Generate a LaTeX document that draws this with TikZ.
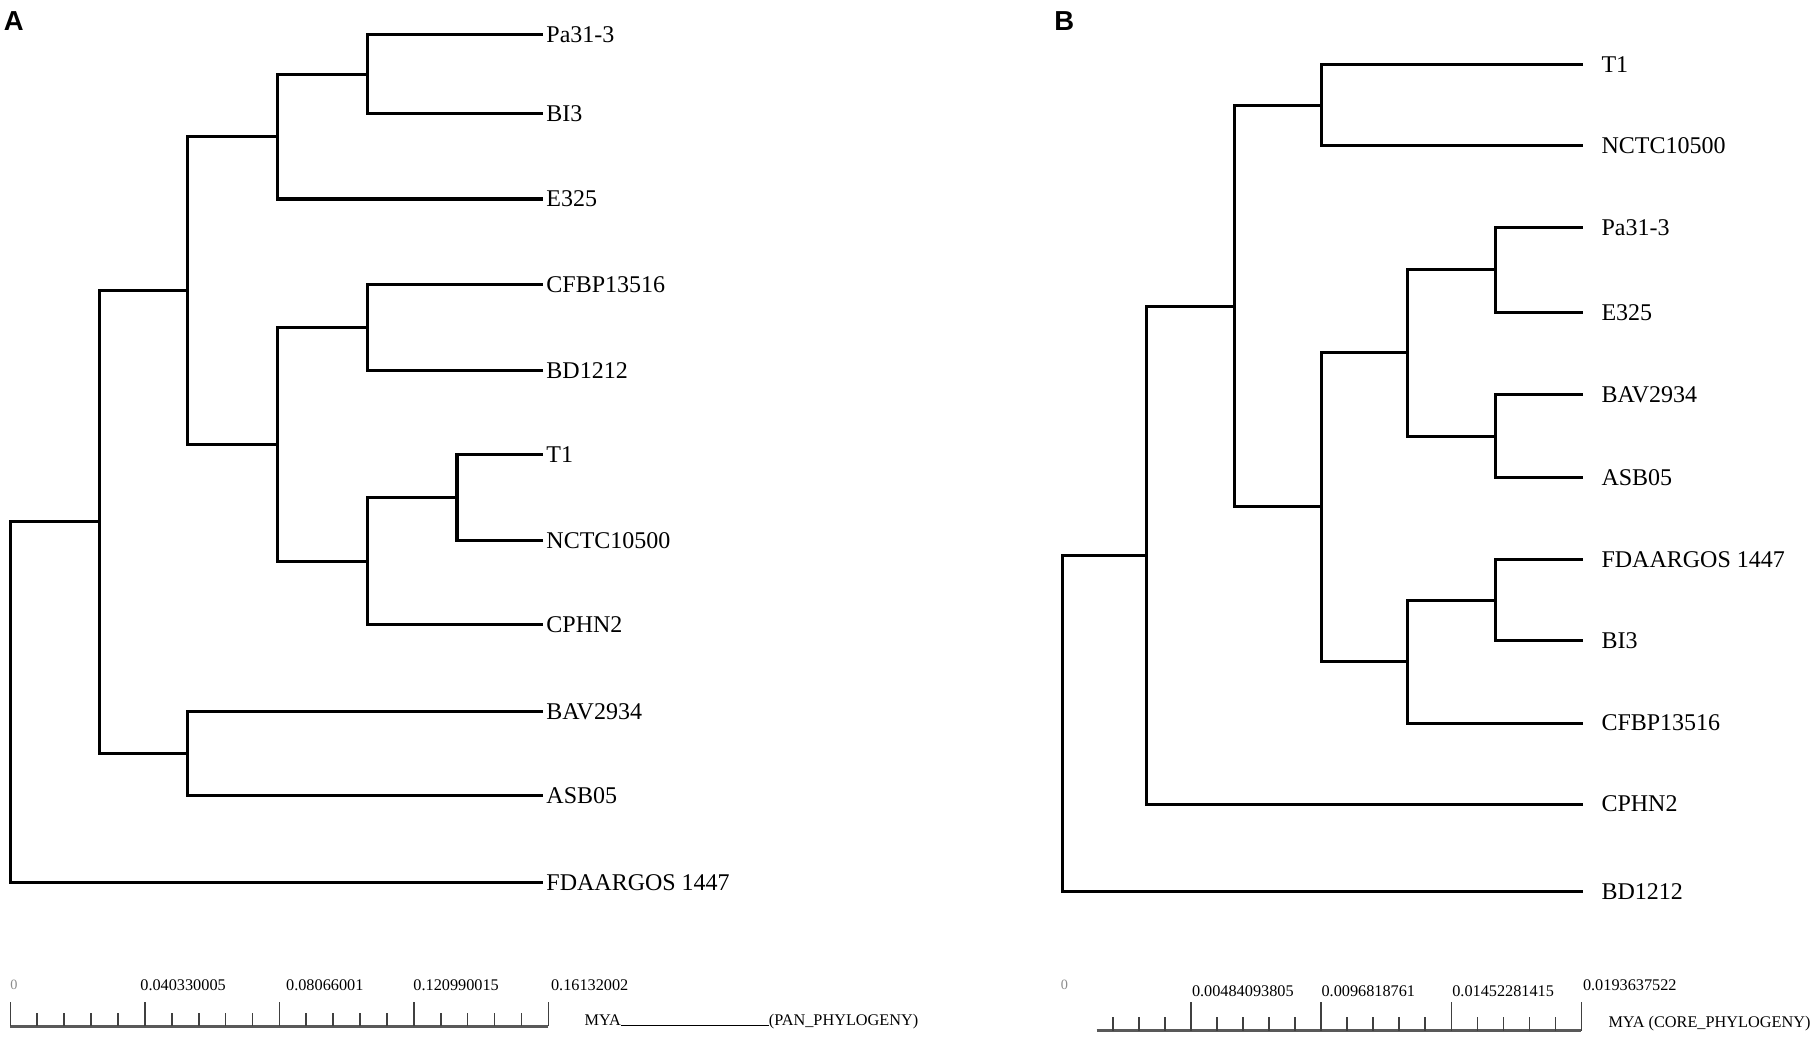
\documentclass[tikz,border=0pt]{standalone}
\usepackage{fontspec}
\setmainfont{Liberation Serif}
\setsansfont{Liberation Sans}
\usetikzlibrary{calc}
\usetikzlibrary{positioning}

\begin{document}
\begin{tikzpicture}
  [
    x = 0.2mm, y = -0.2mm,
    branch/.style = {line width = 1.5pt, line cap = rect, line join = miter},
    leaf/.style = {anchor = west, inner ysep = 0pt, inner xsep = 0.8mm,
                   font = \fontsize{11.8}{14}\selectfont},
    leafB/.style = {leaf, inner xsep = 3.4mm},
    panel/.style = {font = \sffamily\bfseries\fontsize{13.5}{15}\selectfont},
    bar/.style = {line width = 1.4pt, black!65},
    tick/.style = {line width = 0.8pt, black!75},
    scalelab/.style = {anchor = west, inner sep = 0pt, font = \fontsize{8}{9}\selectfont},
    zero/.style = {text = black!45, inner sep = 0pt, font = \fontsize{7}{8}\selectfont},
  ]
  \useasboundingbox (0, 0) rectangle (1568, 898);

  % panel A: pan phylogeny
  \node[panel] (lab_a) at (12, 18) {A};
  \node[leaf] (a_pa)   at (468, 30)  {Pa31-3};
  \node[leaf] (a_bi3)  at (468, 98)  {BI3};
  \node[leaf] (a_e325) at (468, 172) {E325};
  \node[leaf] (a_cfbp) at (468, 246) {CFBP13516};
  \node[leaf] (a_bd)   at (468, 320) {BD1212};
  \node[leaf] (a_t1)   at (468, 393) {T1};
  \node[leaf] (a_nctc) at (468, 467) {NCTC10500};
  \node[leaf] (a_cphn) at (468, 540) {CPHN2};
  \node[leaf] (a_bav)  at (468, 615) {BAV2934};
  \node[leaf] (a_asb)  at (468, 688) {ASB05};
  \node[leaf] (a_fda)  at (468, 763) {FDAARGOS 1447};

  \coordinate (a_n1) at (318, 64);
  \coordinate (a_n2) at (240, 118);
  \coordinate (a_n4) at (318, 283);
  \coordinate (a_n5) at (395, 430);
  \coordinate (a_n6) at (318, 485);
  \coordinate (a_n7) at (240, 384);
  \coordinate (a_n8) at (162, 251);
  \coordinate (a_n9) at (162, 651);
  \coordinate (a_n10) at (86, 451);
  \coordinate (a_root) at (9, 607);

  \draw[branch] (a_pa.west) -| (a_n1) |- (a_bi3.west);
  \draw[branch] (a_n1) -| (a_n2) |- (a_e325.west);
  \draw[branch] (a_cfbp.west) -| (a_n4) |- (a_bd.west);
  \draw[branch] (a_t1.west) -| (a_n5) |- (a_nctc.west);
  \draw[branch] (a_n5) -| (a_n6) |- (a_cphn.west);
  \draw[branch] (a_n4) -| (a_n7) |- (a_n6);
  \draw[branch] (a_n2) -| (a_n8) |- (a_n7);
  \draw[branch] (a_bav.west) -| (a_n9) |- (a_asb.west);
  \draw[branch] (a_n8) -| (a_n10) |- (a_n9);
  \draw[branch] (a_n10) -| (a_root) |- (a_fda.west);

  % scale bar A
  \coordinate (a_bar0) at (9, 887);
  \coordinate (a_bar1) at (474, 887);
  \draw[bar] (a_bar0) -- (a_bar1);
  \foreach \k in {0,...,20} {
    \pgfmathsetmacro{\h}{mod(\k,5)==0 ? 21 : 11}
    \draw[tick] ($(a_bar0)!\k/20!(a_bar1)$) -- ++(0, -\h);
  }
  \node[zero] (a_s0) at (12, 851) {0};
  \node[scalelab] (a_s1) at (121, 852) {0.040330005};
  \node[scalelab] (a_s2) at (247, 852) {0.08066001};
  \node[scalelab] (a_s3) at (357, 852) {0.120990015};
  \node[scalelab] (a_s4) at (476, 852) {0.16132002};
  \node[scalelab] (a_mya) at (505, 883) {MYA\rule[-0.3pt]{25.6mm}{0.5pt}(PAN\_PHYLOGENY)};

  % panel B: core phylogeny
  \node[panel] (lab_b) at (920, 18) {B};
  \node[leafB] (b_t1)   at (1367, 56)  {T1};
  \node[leafB] (b_nctc) at (1367, 126) {NCTC10500};
  \node[leafB] (b_pa)   at (1367, 197) {Pa31-3};
  \node[leafB] (b_e325) at (1367, 270) {E325};
  \node[leafB] (b_bav)  at (1367, 341) {BAV2934};
  \node[leafB] (b_asb)  at (1367, 413) {ASB05};
  \node[leafB] (b_fda)  at (1367, 484) {FDAARGOS 1447};
  \node[leafB] (b_bi3)  at (1367, 554) {BI3};
  \node[leafB] (b_cfbp) at (1367, 625) {CFBP13516};
  \node[leafB] (b_cphn) at (1367, 695) {CPHN2};
  \node[leafB] (b_bd)   at (1367, 771) {BD1212};

  \coordinate (b_n1) at (1142, 91);
  \coordinate (b_n2) at (1293, 233);
  \coordinate (b_n3) at (1293, 377);
  \coordinate (b_n4) at (1217, 305);
  \coordinate (b_n5) at (1293, 519);
  \coordinate (b_n6) at (1217, 572);
  \coordinate (b_n7) at (1142, 438);
  \coordinate (b_n8) at (1067, 265);
  \coordinate (b_n9) at (991, 480);
  \coordinate (b_root) at (918, 625);

  \draw[branch] (b_t1.west) -| (b_n1) |- (b_nctc.west);
  \draw[branch] (b_pa.west) -| (b_n2) |- (b_e325.west);
  \draw[branch] (b_bav.west) -| (b_n3) |- (b_asb.west);
  \draw[branch] (b_n2) -| (b_n4) |- (b_n3);
  \draw[branch] (b_fda.west) -| (b_n5) |- (b_bi3.west);
  \draw[branch] (b_n5) -| (b_n6) |- (b_cfbp.west);
  \draw[branch] (b_n4) -| (b_n7) |- (b_n6);
  \draw[branch] (b_n1) -| (b_n8) |- (b_n7);
  \draw[branch] (b_n8) -| (b_n9) |- (b_cphn.west);
  \draw[branch] (b_n9) -| (b_root) |- (b_bd.west);

  % scale bar B
  \coordinate (b_bar0) at (948, 891);
  \coordinate (b_bar1) at (1367, 891);
  \draw[bar] (b_bar0) -- (b_bar1);
  \foreach \k in {0,...,18} {
    \pgfmathsetmacro{\h}{mod(\k,5)==0 ? 25 : 12}
    \draw[tick] ($(b_bar1)+(-22.5*\k, 0)$) -- ++(0, -\h);
  }
  \node[zero] (b_s0) at (920, 851) {0};
  \node[scalelab] (b_s1) at (1030, 857) {0.00484093805};
  \node[scalelab] (b_s2) at (1142, 857) {0.0096818761};
  \node[scalelab] (b_s3) at (1255, 857) {0.01452281415};
  \node[scalelab] (b_s4) at (1368, 852) {0.0193637522};
  \node[scalelab] (b_mya) at (1390, 885) {MYA (CORE\_PHYLOGENY)};
\end{tikzpicture}
\end{document}
